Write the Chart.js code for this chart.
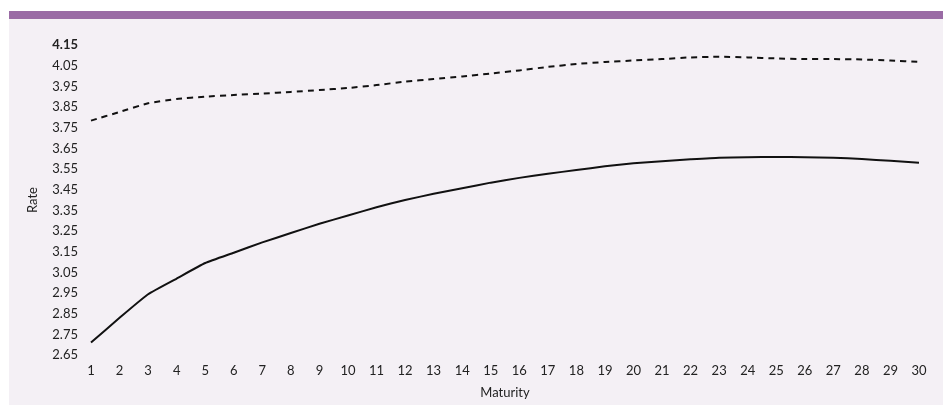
<!DOCTYPE html>
<html>
<head>
<meta charset="utf-8">
<script src="https://cdn.jsdelivr.net/npm/chart.js@4/dist/chart.umd.min.js"></script>
<style>
  html, body { margin: 0; padding: 0; background: #ffffff; width: 943px; height: 412px; overflow: hidden; }
  #bar { position: absolute; left: 9px; top: 11px; width: 934px; height: 8px; background: #9a6ba5; }
  #panel { position: absolute; left: 9px; top: 19px; width: 934px; height: 386px; background: #f4f0f5; }
  #panel canvas { display: block; }
</style>
</head>
<body>
<div id="bar"></div>
<div id="panel"><canvas id="c" width="934" height="386"></canvas></div>
<script>
const maturities = [1,2,3,4,5,6,7,8,9,10,11,12,13,14,15,16,17,18,19,20,21,22,23,24,25,26,27,28,29,30];
const solidRates = [2.71,2.83,2.944,3.02,3.095,3.145,3.195,3.24,3.285,3.325,3.365,3.4,3.43,3.457,3.484,3.507,3.527,3.545,3.563,3.578,3.588,3.597,3.605,3.607,3.608,3.607,3.605,3.598,3.59,3.58];
const dashedRates = [3.784,3.826,3.868,3.889,3.9,3.908,3.915,3.923,3.932,3.942,3.956,3.973,3.985,3.998,4.012,4.027,4.044,4.058,4.068,4.075,4.082,4.09,4.093,4.09,4.085,4.082,4.082,4.08,4.075,4.068];
const yTicks = [2.65,2.75,2.85,2.95,3.05,3.15,3.25,3.35,3.45,3.55,3.65,3.75,3.85,3.95,4.05,4.15];

const FONT = "Lato, 'Open Sans', sans-serif";
const TXT = '#222222';

new Chart(document.getElementById('c'), {
  type: 'line',
  data: {
    labels: maturities,
    datasets: [
      { data: dashedRates, borderColor: '#111111', borderWidth: 2, borderDash: [6, 5], pointRadius: 0, tension: 0.15, fill: false },
      { data: solidRates, borderColor: '#111111', borderWidth: 2, pointRadius: 0, tension: 0.15, fill: false }
    ]
  },
  options: {
    responsive: false,
    animation: false,
    events: [],
    layout: { padding: { left: 0, right: 24, top: 26, bottom: 0 } },
    plugins: { legend: { display: false }, tooltip: { enabled: false } },
    scales: {
      x: {
        type: 'category',
        offset: false,
        grid: { display: false, drawTicks: false },
        border: { display: false },
        ticks: { autoSkip: false, maxRotation: 0, padding: 8, color: TXT, font: { family: FONT, size: 13 } },
        title: { display: true, text: 'Maturity', color: TXT, font: { family: FONT, size: 13 }, padding: { top: 0, bottom: 4 } },
        afterFit: s => { s.height = 50; }
      },
      y: {
        min: 2.65,
        max: 4.15,
        grid: { display: false, drawTicks: false },
        border: { display: false },
        afterBuildTicks: s => { s.ticks = yTicks.map(v => ({ value: v })); },
        ticks: {
          padding: 13,
          color: TXT,
          callback: v => Number(v).toFixed(2),
          font: c => ({ family: FONT, size: 13, weight: (c.tick && Math.abs(c.tick.value - 4.15) < 1e-6) ? 'bold' : 'normal' })
        },
        title: { display: true, text: 'Rate', color: TXT, font: { family: FONT, size: 13 }, padding: { top: 16, bottom: 0 } },
        afterFit: s => { s.width = 82; }
      }
    }
  }
});
</script>
</body>
</html>
